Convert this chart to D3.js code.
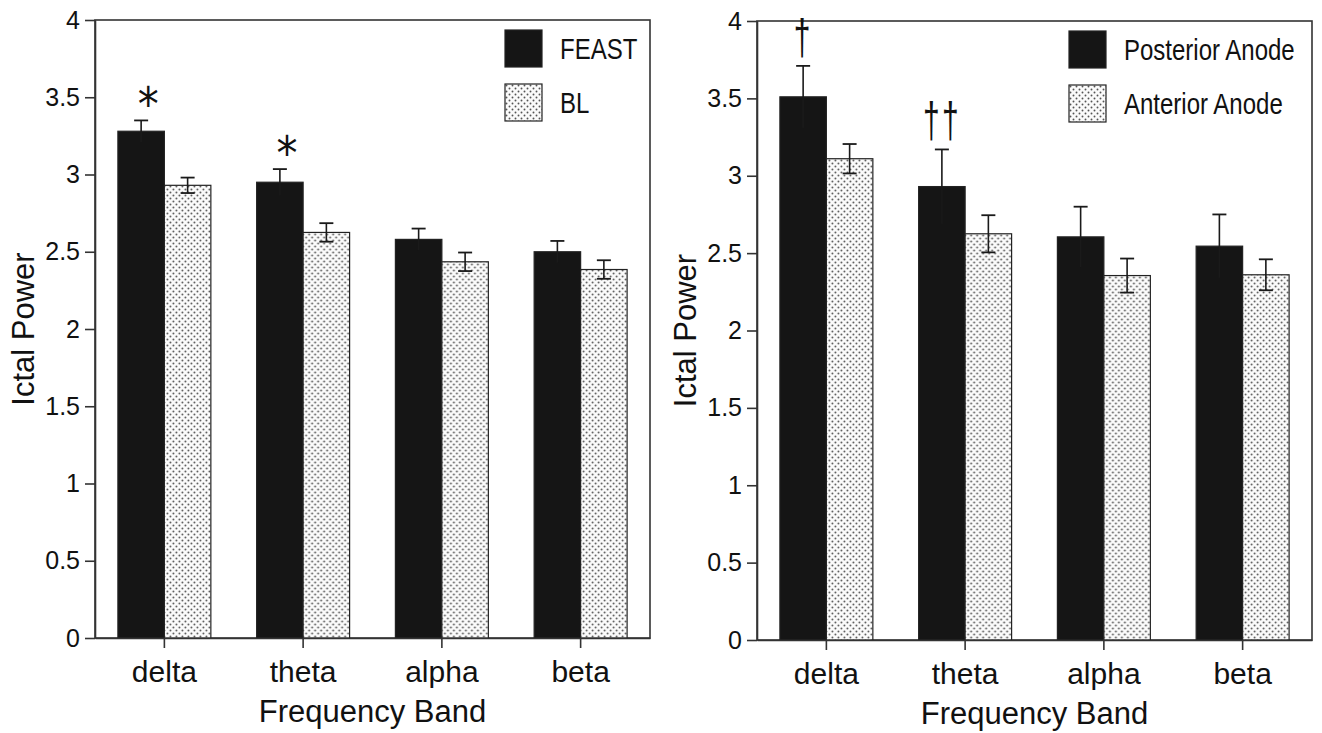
<!DOCTYPE html>
<html>
  <head>
    <title>Ictal power by frequency band</title>
    <script src="https://d3js.org/d3.v7.min.js"></script>
    <style>
      body { margin: 0; background: #fff; }
      text { font-family: "Liberation Sans", Arial, Helvetica, sans-serif; fill: #111; }
    </style>
  </head>
  <body>
    <script>
      // Data
      const bands = ["delta", "theta", "alpha", "beta"];
      const yTicks = [0, 0.5, 1, 1.5, 2, 2.5, 3, 3.5, 4];

      const feast = [3.28, 2.95, 2.58, 2.50];
      const feastErr = [0.07, 0.085, 0.07, 0.07];
      const bl = [2.93, 2.625, 2.435, 2.385];
      const blErr = [0.05, 0.06, 0.06, 0.06];
      const leftMarks = ["*", "*", "", ""];

      const posterior = [3.51, 2.93, 2.605, 2.545];
      const posteriorErr = [0.20, 0.24, 0.195, 0.205];
      const anterior = [3.11, 2.625, 2.355, 2.36];
      const anteriorErr = [0.095, 0.12, 0.11, 0.10];
      const rightMarks = ["†", "††", "", ""];

      const width = 1322;
      const height = 733;

      const svg = d3.select("body")
        .append("svg")
        .attr("width", width)
        .attr("height", height);

      // dotted fill for the second series
      const pat = svg.append("defs").append("pattern")
        .attr("id", "dots")
        .attr("patternUnits", "userSpaceOnUse")
        .attr("width", 6)
        .attr("height", 6);
      pat.append("rect").attr("width", 6).attr("height", 6).attr("fill", "#fbfbfb");
      pat.append("circle").attr("cx", 1.5).attr("cy", 1.5).attr("r", 0.95).attr("fill", "#555");
      pat.append("circle").attr("cx", 4.5).attr("cy", 4.5).attr("r", 0.95).attr("fill", "#555");

      function drawPanel(p) {
        const g = svg.append("g").attr("transform", `translate(${p.left}, ${p.top})`);
        const w = p.width, h = p.height;

        const x0 = d3.scaleBand().domain(bands).range([0, w]).paddingInner(0.33).paddingOuter(0.165);
        const x1 = d3.scaleBand().domain([0, 1]).range([0, x0.bandwidth()]);
        const y = d3.scaleLinear().domain([0, 4]).range([h, 0]);

        // frame
        g.append("rect")
          .attr("width", w)
          .attr("height", h)
          .attr("fill", "none")
          .attr("stroke", "#333")
          .attr("stroke-width", 1.6);

        const rows = bands.map((b, i) => ({
          band: b,
          mark: p.marks[i],
          vals: [
            { k: 0, v: p.a[i], e: p.aErr[i] },
            { k: 1, v: p.b[i], e: p.bErr[i] }
          ]
        }));

        const grp = g.selectAll(".band")
          .data(rows)
          .enter()
          .append("g")
          .attr("transform", d => `translate(${x0(d.band)}, 0)`);

        grp.selectAll("rect")
          .data(d => d.vals)
          .enter()
          .append("rect")
          .attr("x", d => x1(d.k))
          .attr("y", d => y(d.v))
          .attr("width", x1.bandwidth())
          .attr("height", d => h - y(d.v))
          .attr("fill", d => d.k === 0 ? "#151515" : "url(#dots)")
          .attr("stroke", "#222")
          .attr("stroke-width", 1.2);

        // error bars
        const err = grp.selectAll(".err")
          .data(d => d.vals)
          .enter()
          .append("g")
          .attr("transform", d => `translate(${x1(d.k) + x1.bandwidth() / 2}, 0)`);
        err.append("line")
          .attr("y1", d => y(d.v - d.e))
          .attr("y2", d => y(d.v + d.e))
          .attr("stroke", "#1a1a1a")
          .attr("stroke-width", 1.6);
        err.selectAll(".cap")
          .data(d => d.k === 0 ? [d.v + d.e] : [d.v + d.e, d.v - d.e])
          .enter()
          .append("line")
          .attr("x1", -7)
          .attr("x2", 7)
          .attr("y1", d => y(d))
          .attr("y2", d => y(d))
          .attr("stroke", "#1a1a1a")
          .attr("stroke-width", 1.8);

        // significance marks above the first series
        const cx = x1(0) + x1.bandwidth() / 2 + p.markDx;
        grp.filter(d => d.mark !== "")
          .append("text")
          .style("font-family", p.markFont)
          .style("font-size", p.markSize + "px")
          .style("letter-spacing", p.markSpacing + "px")
          .text(d => d.mark)
          .each(function (d) {
            const bb = this.getBBox();
            const top = y(d.vals[0].v + d.vals[0].e) - p.markGap;
            const tx = cx - (bb.x + bb.width / 2) * p.sx;
            const ty = p.markCenter
              ? top - (bb.y + bb.height / 2) * p.sy
              : top - (bb.y + bb.height) * p.sy;
            d3.select(this).attr("transform", `translate(${tx}, ${ty}) scale(${p.sx}, ${p.sy})`);
          });

        // axes
        const yAxis = g.append("g")
          .call(d3.axisLeft(y).tickValues(yTicks).tickFormat(d3.format("~g")).tickSize(10).tickSizeOuter(0).tickPadding(5));
        yAxis.selectAll("text").style("font-size", "25px");

        const xAxis = g.append("g")
          .attr("transform", `translate(0, ${h})`)
          .call(d3.axisBottom(x0).tickSize(10).tickSizeOuter(0).tickPadding(13));
        xAxis.selectAll("text").style("font-size", "30px");

        g.selectAll(".domain, .tick line").attr("stroke", "#333").attr("stroke-width", 1.6);

        g.append("text")
          .attr("transform", `translate(${-61}, ${h / 2}) rotate(-90)`)
          .attr("text-anchor", "middle")
          .style("font-size", "31px")
          .text("Ictal Power");

        g.append("text")
          .attr("x", w / 2)
          .attr("y", h + 84)
          .attr("text-anchor", "middle")
          .style("font-size", "31px")
          .text("Frequency Band");

        // legend
        const leg = g.append("g").attr("transform", `translate(${p.legendX}, 10)`);
        const items = leg.selectAll("g")
          .data(p.names)
          .enter()
          .append("g")
          .attr("transform", (d, i) => `translate(0, ${i * 54})`);
        items.append("rect")
          .attr("width", 37)
          .attr("height", 37)
          .attr("fill", (d, i) => i === 0 ? "#151515" : "url(#dots)")
          .attr("stroke", "#222")
          .attr("stroke-width", 1.2);
        items.append("text")
          .attr("transform", "translate(55, 29) scale(0.8, 1)")
          .style("font-size", "30px")
          .text(d => d);
      }

      drawPanel({
        left: 95, top: 20, width: 555, height: 618,
        a: feast, aErr: feastErr, b: bl, bErr: blErr,
        names: ["FEAST", "BL"], marks: leftMarks,
        legendX: 410,
        markFont: "DejaVu Sans", markSize: 42, markSpacing: 0, markDx: 7, markGap: 16,
        markCenter: true, sx: 1, sy: 1.1
      });

      drawPanel({
        left: 757, top: 21, width: 555, height: 619,
        a: posterior, aErr: posteriorErr, b: anterior, bErr: anteriorErr,
        names: ["Posterior Anode", "Anterior Anode"], marks: rightMarks,
        legendX: 312,
        markFont: "Liberation Sans", markSize: 40, markSpacing: 3, markDx: 0, markGap: 2,
        markCenter: false, sx: 0.75, sy: 1.25
      });
    </script>
  </body>
</html>
